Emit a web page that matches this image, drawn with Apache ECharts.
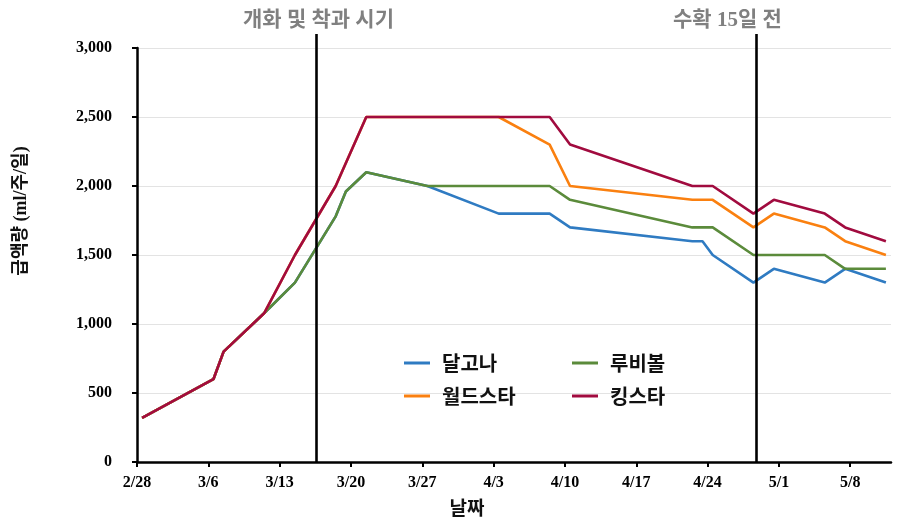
<!DOCTYPE html>
<html>
<head>
<meta charset="utf-8">
<script src="https://cdn.jsdelivr.net/npm/echarts@6/dist/echarts.min.js"></script>
<style>html,body{margin:0;padding:0;background:#fff;}#c{width:920px;height:523px;}</style>
</head>
<body>
<div id="c"></div>
<script>
// Day offsets from 2/28 (leap year); values in ml/plant/day
const tickLabels = ['2/28','3/6','3/13','3/20','3/27','4/3','4/10','4/17','4/24','5/1','5/8'];
const seriesNames = ['달고나','루비볼','월드스타','킹스타'];

const dalgonaDays = [0,7,8,12,15,19,20,22,28,35,40,42,54,55,56,60,62,67,69,73];
const dalgonaVals = [320,600,800,1080,1300,1780,1960,2100,2000,1800,1800,1700,1600,1600,1500,1300,1400,1300,1400,1300];

const rubyDays = [0,7,8,12,15,19,20,22,28,40,42,54,56,60,67,69,73];
const rubyVals = [320,600,800,1080,1300,1780,1960,2100,2000,2000,1900,1700,1700,1500,1500,1400,1400];

const worldDays = [0,7,8,12,15,19,22,35,40,42,54,56,60,62,67,69,73];
const worldVals = [320,600,800,1080,1500,2000,2500,2500,2300,2000,1900,1900,1700,1800,1700,1600,1500];

const kingDays = [0,7,8,12,15,19,22,40,42,54,56,60,62,67,69,73];
const kingVals = [320,600,800,1080,1500,2000,2500,2500,2300,2000,2000,1800,1900,1800,1700,1600];

const markerDays = [17.1, 60.3];
const markerTexts = ['개화 및 착과 시기', '수확 15일 전'];

const colors = ['#2F7BC2', '#5B8B3B', '#FA8010', '#A10B3F'];

function pts(days, vals) { return days.map((d, i) => [d + 0.5, vals[i]]); }

const serifKR = "'Liberation Serif','Noto Sans CJK KR',serif";
const sansKR = "'Noto Sans CJK KR',sans-serif";

const chart = echarts.init(document.getElementById('c'), null, {renderer: 'canvas'});
const grid = {left: 137, right: 29, top: 48, bottom: 61};
const lineSeries = (name, data, color) => ({
  name, type: 'line', data, xAxisIndex: 0, yAxisIndex: 0,
  symbol: 'none', showSymbol: false, color,
  lineStyle: {color, width: 2.6}, z: 3
});
const legendBase = {
  orient: 'vertical', itemGap: 13, itemWidth: 26, itemHeight: 3, icon: 'rect',
  selectedMode: false,
  textStyle: {fontSize: 20, fontWeight: 'bold', fontFamily: sansKR, color: '#111', padding: [0,0,0,7]}
};
chart.setOption({
  animation: false,
  backgroundColor: '#fff',
  title: [
    {text: markerTexts[0], left: 238, top: 5, textStyle: {fontSize: 21, fontWeight: 'bold', color: '#808080', fontFamily: serifKR}},
    {text: markerTexts[1], left: 668, top: 5, textStyle: {fontSize: 21, fontWeight: 'bold', color: '#808080', fontFamily: serifKR}}
  ],
  grid: [grid, {left: 137, right: 29, top: 34, bottom: 61}],
  legend: [
    Object.assign({}, legendBase, {data: [seriesNames[0], seriesNames[2]], left: 399, top: 348}),
    Object.assign({}, legendBase, {data: [seriesNames[1], seriesNames[3]], left: 567, top: 348})
  ],
  xAxis: [{
    type: 'value', min: 0, max: 74, interval: 7, gridIndex: 0,
    name: '날짜', nameLocation: 'middle', nameGap: 36,
    nameTextStyle: {fontSize: 19, fontWeight: 'bold', fontFamily: sansKR, color: '#111', padding: [0, 94, 0, 0]},
    axisLine: {show: true, lineStyle: {color: '#000', width: 2.5}},
    axisTick: {show: true, length: 5, lineStyle: {color: '#000', width: 2}, customValues: tickLabels.map((t, i) => i * 7)},
    axisLabel: {
      margin: 13, fontSize: 16, fontWeight: 'bold', fontFamily: serifKR, color: '#000',
      customValues: tickLabels.map((t, i) => i * 7),
      formatter: v => (v % 7 === 0 && tickLabels[v / 7] !== undefined) ? tickLabels[v / 7] : ''
    },
    splitLine: {show: false}
  }, {
    type: 'value', min: 0, max: 74, gridIndex: 1, show: false
  }],
  yAxis: [{
    type: 'value', min: 0, max: 3000, interval: 500, gridIndex: 0,
    name: '급액량 (ml/주/일)', nameLocation: 'middle', nameGap: 107, nameRotate: 90,
    nameTextStyle: {fontSize: 18, fontWeight: 'bold', fontFamily: serifKR, color: '#111', padding: [0, 0, 0, 88]},
    axisLine: {show: true, lineStyle: {color: '#000', width: 2.5}},
    axisTick: {show: true, length: 5, lineStyle: {color: '#000', width: 2}},
    axisLabel: {
      margin: 25, fontSize: 16, fontWeight: 'bold', fontFamily: serifKR, color: '#000',
      formatter: v => v.toLocaleString('en-US')
    },
    splitLine: {show: true, lineStyle: {color: '#e3e3e3', width: 1}}
  }, {
    type: 'value', min: 0, max: 1, gridIndex: 1, show: false
  }],
  series: [
    lineSeries(seriesNames[0], pts(dalgonaDays, dalgonaVals), colors[0]),
    lineSeries(seriesNames[1], pts(rubyDays, rubyVals), colors[1]),
    lineSeries(seriesNames[2], pts(worldDays, worldVals), colors[2]),
    lineSeries(seriesNames[3], pts(kingDays, kingVals), colors[3]),
    {
      name: 'markers', type: 'line', xAxisIndex: 1, yAxisIndex: 1,
      data: [[0, 0]], symbol: 'none', lineStyle: {opacity: 0}, silent: true, z: 5,
      markLine: {
        silent: true, symbol: 'none', animation: false,
        label: {show: false},
        lineStyle: {color: '#000', width: 2.6, type: 'solid'},
        data: markerDays.map(d => ({xAxis: d + 0.5}))
      }
    }
  ]
});
</script>
</body>
</html>
